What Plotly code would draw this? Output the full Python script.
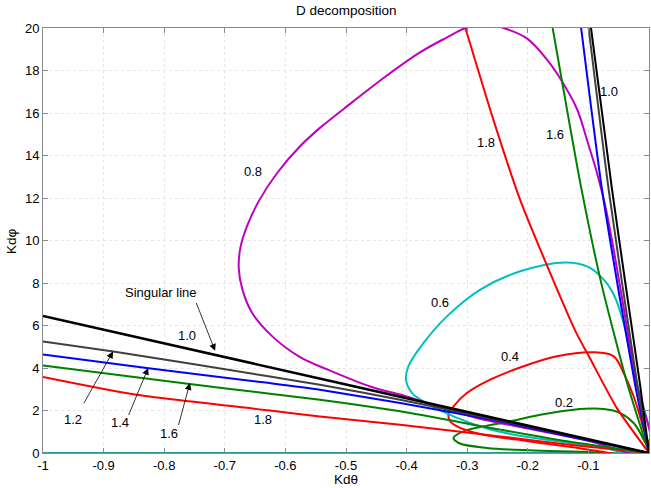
import plotly.graph_objects as go

# ---- D-decomposition boundary curves (Kdθ, Kdφ) ----
# closed loops for parameter values below 1
loop02_x = [0, -0.108, -0.19, -0.2675, -0.314, -0.3226, -0.306, -0.273, -0.229, -0.1794, -0.1244, -0.0748, -0.0473, -0.0253, -0.0088, 0]
loop02_y = [0, 0.06, 0.12, 0.235, 0.47, 0.71, 1.02, 1.25, 1.49, 1.80, 2.04, 2.07, 1.88, 1.41, 0.63, 0]

loop04_x = [0, -0.135, -0.218, -0.273, -0.3116, -0.328, -0.3309, -0.3226, -0.3006, -0.262, -0.207, -0.152, -0.0914, -0.0583, -0.0418, -0.0253, -0.0088, 0]
loop04_y = [0, 0.31, 0.63, 0.86, 1.18, 1.49, 1.80, 2.19, 2.82, 3.45, 4.08, 4.55, 4.74, 4.55, 3.76, 2.66, 1.10, 0]

loop06_x = [0, -0.08, -0.15, -0.22, -0.2675, -0.3226, -0.367, -0.391, -0.401, -0.397, -0.372, -0.3335, -0.279, -0.2125, -0.138, -0.102, -0.0747, -0.058, -0.047, -0.031, -0.020, 0]
loop06_y = [0, 0.27, 0.55, 0.85, 1.15, 1.72, 2.35, 2.82, 3.45, 4.08, 5.18, 6.43, 7.68, 8.55, 8.97, 8.78, 8.16, 7.45, 6.6, 4.86, 3.3, 0]

loop08_x = [0, -0.1, -0.2, -0.284, -0.34, -0.400, -0.460, -0.530, -0.578, -0.622, -0.655, -0.671, -0.677, -0.674, -0.663, -0.643, -0.613, -0.577, -0.543, -0.490, -0.433, -0.378, -0.334, -0.303, -0.27, -0.240, -0.201, -0.168, -0.146, -0.119, -0.102, -0.086, -0.072, -0.061, -0.044, -0.022, 0]
loop08_y = [0, 0.58, 1.15, 1.65, 2.1, 2.66, 3.13, 3.92, 4.55, 5.5, 6.6, 7.7, 8.7, 9.7, 10.7, 11.9, 13.2, 14.4, 15.3, 16.5, 17.75, 18.85, 19.55, 20.0, 20.2, 20.0, 19.5, 18.5, 17.6, 16.2, 14.7, 13.2, 11.6, 10.0, 7.2, 3.45, 0]

# open branches for parameter values 1.0 ... 1.8 (shallow and steep)
s10_x = [-1, -0.5, 0]
s10_y = [6.45, 3.22, 0]
t10_x = [-0.0957, -0.061, -0.037, -0.0142, 0]
t10_y = [20, 12.4, 7.6, 3.1, 0]

s12_x = [-1, -0.884, -0.6255, -0.543, -0.4106, -0.2455, -0.1353, 0]
s12_y = [5.25, 4.78, 3.60, 3.21, 2.51, 1.52, 0.85, 0]
t12_x = [-0.0996, -0.0666, -0.0197, 0]
t12_y = [20, 12.4, 3.29, 0]

s14_x = [-1, -0.829, -0.6255, -0.543, -0.4106, -0.2455, -0.1353, 0]
s14_y = [4.63, 4.0, 3.29, 2.98, 2.35, 1.48, 0.80, 0]
t14_x = [-0.112, -0.0786, -0.050, -0.0225, 0]
t14_y = [20, 12.6, 7.6, 3.15, 0]

s16_x = [-1, -0.758, -0.6255, -0.543, -0.4106, -0.2455, -0.1353, 0]
s16_y = [4.12, 3.25, 2.79, 2.51, 1.96, 1.10, 0.55, 0]
t16_x = [-0.159, -0.112, -0.078, -0.0352, 0]
t16_y = [20, 12.5, 7.9, 3.2, 0]

s18_x = [-1, -0.846, -0.6255, -0.543, -0.4106, -0.2455, -0.1353, 0]
s18_y = [3.58, 2.74, 2.0, 1.72, 1.33, 0.78, 0.40, 0]
t18_x = [-0.303, -0.257, -0.2125, -0.179, -0.1216, -0.0968, -0.0527, 0]
t18_y = [20, 15.7, 11.9, 9.55, 5.75, 4.42, 2.1, 0]

zero_x = [-1, 0]
zero_y = [0, 0]

x_ticks = [-1, -0.9, -0.8, -0.7, -0.6, -0.5, -0.4, -0.3, -0.2, -0.1, 0]
x_tick_text = ["-1", "-0.9", "-0.8", "-0.7", "-0.6", "-0.5", "-0.4", "-0.3", "-0.2", "-0.1", "0"]
y_ticks = [0, 2, 4, 6, 8, 10, 12, 14, 16, 18, 20]

# curve labels: (text, x, y)
curve_labels = [
    ("0.2", -0.141, 2.40),
    ("0.4", -0.229, 4.55),
    ("0.6", -0.3446, 7.09),
    ("0.8", -0.653, 13.25),
    ("1.0", -0.0666, 17.02),
    ("1.6", -0.1546, 14.98),
    ("1.8", -0.269, 14.62),
    ("1.0", -0.763, 5.52),
    ("1.8", -0.6365, 1.57),
    ("Singular line", -0.8055, 7.54),
    ("1.2", -0.9504, 1.57),
    ("1.4", -0.8733, 1.44),
    ("1.6", -0.7918, 0.94),
]
# pointer arrows: (tail x, tail y, tip x, tip y)
pointers = [
    (-0.748, 7.13, -0.716, 4.81),
    (-0.934, 2.27, -0.8844, 4.78),
    (-0.8596, 1.72, -0.8265, 4.0),
    (-0.777, 1.25, -0.7576, 3.29),
]

RED, GREEN, BLUE = "#ff0000", "#008000", "#0000ff"
CYAN, MAGENTA, GRAY, BLACK = "#00bfbf", "#bf00bf", "#404040", "#000000"
FONT = "Liberation Sans, Arial, Helvetica, sans-serif"

fig = go.Figure()


def add(xs, ys, color, width=2.0, smooth=1.0):
    fig.add_trace(go.Scatter(
        x=xs, y=ys, mode="lines",
        line=dict(color=color, width=width, shape="spline", smoothing=smooth),
        hoverinfo="skip", showlegend=False,
    ))


add(zero_x, zero_y, "#2e9a96", 2.2)
add(loop02_x, loop02_y, GREEN)
add(loop04_x, loop04_y, RED)
add(loop06_x, loop06_y, CYAN)
add(loop08_x, loop08_y, MAGENTA)
add(s18_x, s18_y, RED, smooth=0.6)
add(t18_x, t18_y, RED, smooth=0.6)
add(s16_x, s16_y, GREEN, smooth=0.6)
add(t16_x, t16_y, GREEN, smooth=0.6)
add(s14_x, s14_y, BLUE, smooth=0.6)
add(t14_x, t14_y, BLUE, smooth=0.6)
add(s12_x, s12_y, GRAY, smooth=0.6)
add(t12_x, t12_y, GRAY, smooth=0.6)
add(t10_x, t10_y, BLACK, smooth=0.6)
add(s10_x, s10_y, BLACK, 2.6, smooth=0.6)

annotations = []
for text, x, y in curve_labels:
    annotations.append(dict(x=x, y=y, xref="x", yref="y", text=text, showarrow=False,
                            xanchor="center", yanchor="middle",
                            font=dict(family=FONT, size=13, color="black")))
for tx, ty, hx, hy in pointers:
    annotations.append(dict(x=hx, y=hy, xref="x", yref="y", ax=tx, ay=ty, axref="x", ayref="y",
                            text="", showarrow=True, arrowhead=2, arrowsize=1.7,
                            arrowwidth=0.8, arrowcolor="black"))

annotations += [
    dict(x=0.5, y=1.042, xref="paper", yref="paper", text="D decomposition", showarrow=False,
         xanchor="center", yanchor="middle",
         font=dict(family=FONT, size=13.5, color="black")),
    dict(x=0.5, y=-0.063, xref="paper", yref="paper", text="Kdθ", showarrow=False,
         xanchor="center", yanchor="middle",
         font=dict(family=FONT, size=13.5, color="black")),
    dict(x=-0.052, y=0.5, xref="paper", yref="paper", text="Kdφ", showarrow=False, textangle=-90,
         xanchor="center", yanchor="middle",
         font=dict(family=FONT, size=13.5, color="black")),
]

axis_common = dict(
    showgrid=True, gridcolor="#e6e6e6", griddash="3px,3px", gridwidth=1,
    showline=True, linecolor="#8a8a8a", linewidth=1, mirror="ticks",
    ticks="inside", ticklen=5, tickcolor="#8a8a8a", zeroline=False,
    tickfont=dict(family=FONT, size=13, color="black"), automargin=False,
)

fig.update_layout(
    width=651, height=488,
    margin=dict(l=43, r=2, t=28, b=35),
    paper_bgcolor="white", plot_bgcolor="white",
    xaxis=dict(range=[-1, 0], tickvals=x_ticks, ticktext=x_tick_text, **axis_common),
    yaxis=dict(range=[0, 20], tickvals=y_ticks, **axis_common),
    annotations=annotations,
    showlegend=False,
)

fig.write_html("out.html")
